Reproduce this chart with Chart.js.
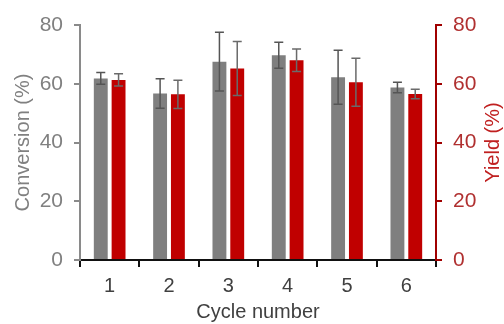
<!DOCTYPE html>
<html>
<head>
<meta charset="utf-8">
<script src="https://cdn.jsdelivr.net/npm/chart.js@4/dist/chart.umd.min.js"></script>
<style>
  html, body { margin: 0; padding: 0; background: #fff; }
  #wrap { width: 504px; height: 324px; }
</style>
</head>
<body>
<div id="wrap"><canvas id="chart" width="504" height="324"></canvas></div>
<script>
// values
var cycles = ['1', '2', '3', '4', '5', '6'];
var conversion = [61.8, 56.7, 67.5, 69.7, 62.2, 58.7];
var conversionErr = [2.0, 5.0, 10.0, 4.4, 9.2, 1.8];
var yieldVals = [61.3, 56.4, 65.2, 68.0, 60.5, 56.5];
var yieldErr = [2.1, 4.8, 9.2, 3.8, 8.2, 1.6];

var font = 'Arial, "Liberation Sans", sans-serif';

// error bars drawn with the chart's own scales
var errorBars = {
  id: 'errorBars',
  afterDatasetsDraw: function (chart) {
    var ctx = chart.ctx;
    chart.data.datasets.forEach(function (ds, i) {
      var meta = chart.getDatasetMeta(i);
      var scale = chart.scales[ds.yAxisID];
      ctx.save();
      ctx.strokeStyle = ds.errColor;
      ctx.lineWidth = 1.5;
      meta.data.forEach(function (bar, j) {
        var v = ds.data[j], e = ds.errors[j];
        var top = scale.getPixelForValue(v + e);
        var bot = scale.getPixelForValue(v - e);
        ctx.beginPath();
        ctx.moveTo(bar.x, top);
        ctx.lineTo(bar.x, bot);
        ctx.moveTo(bar.x - 4.5, top);
        ctx.lineTo(bar.x + 4.5, top);
        ctx.moveTo(bar.x - 4.5, bot);
        ctx.lineTo(bar.x + 4.5, bot);
        ctx.stroke();
      });
      ctx.restore();
    });
  }
};

// right axis title reads bottom-to-top like the left one
var yieldTitle = {
  id: 'yieldTitle',
  afterDraw: function (chart) {
    var ctx = chart.ctx;
    var s = chart.scales.y1;
    ctx.save();
    ctx.translate(s.right - 11, (s.top + s.bottom) / 2);
    ctx.rotate(-Math.PI / 2);
    ctx.fillStyle = '#c02020';
    ctx.font = '20px ' + font;
    ctx.textAlign = 'center';
    ctx.textBaseline = 'middle';
    ctx.fillText('Yield (%)', 0, 0);
    ctx.restore();
  }
};

var ctx = document.getElementById('chart').getContext('2d');
var myChart = new Chart(ctx, {
  type: 'bar',
  data: {
    labels: cycles,
    datasets: [
      {
        label: 'Conversion',
        data: conversion,
        errors: conversionErr,
        errColor: '#555555',
        yAxisID: 'y',
        backgroundColor: '#7f7f7f',
        categoryPercentage: 0.6,
        barPercentage: 0.78
      },
      {
        label: 'Yield',
        data: yieldVals,
        errors: yieldErr,
        errColor: '#6a6a6a',
        yAxisID: 'y1',
        backgroundColor: '#c00000',
        categoryPercentage: 0.6,
        barPercentage: 0.78
      }
    ]
  },
  options: {
    responsive: false,
    animation: false,
    devicePixelRatio: 1,
    layout: { padding: { top: 25, left: 0, right: 0, bottom: 0 } },
    plugins: {
      legend: { display: false },
      tooltip: { enabled: false }
    },
    scales: {
      x: {
        afterFit: function (s) { s.height = 64; },
        border: { color: '#111111', width: 2 },
        grid: { drawOnChartArea: false, drawTicks: true, tickLength: 7, tickColor: '#111111', lineWidth: 2 },
        ticks: { color: '#404040', font: { family: font, size: 20 }, padding: 7 },
        title: {
          display: true, text: 'Cycle number', color: '#404040',
          font: { family: font, size: 20 }, padding: { top: 0, bottom: 0 }
        }
      },
      y: {
        position: 'left',
        min: 0, max: 80,
        afterFit: function (s) { s.width = 80; },
        border: { color: '#8a8a8a', width: 2 },
        grid: { drawOnChartArea: false, drawTicks: true, tickLength: 6, tickColor: '#8a8a8a', lineWidth: 2 },
        ticks: { stepSize: 20, color: '#808080', font: { family: font, size: 21 }, padding: 11 },
        title: {
          display: true, text: 'Conversion (%)', color: '#808080',
          font: { family: font, size: 20 }, padding: { top: 11, bottom: 0 }
        }
      },
      y1: {
        position: 'right',
        min: 0, max: 80,
        afterFit: function (s) { s.width = 68; },
        border: { color: '#a00000', width: 2 },
        grid: { drawOnChartArea: false, drawTicks: true, tickLength: 6, tickColor: '#a00000', lineWidth: 2 },
        ticks: { stepSize: 20, color: '#b03030', font: { family: font, size: 21 }, padding: 11 },
        title: { display: false }
      }
    }
  },
  plugins: [errorBars, yieldTitle]
});
</script>
</body>
</html>
